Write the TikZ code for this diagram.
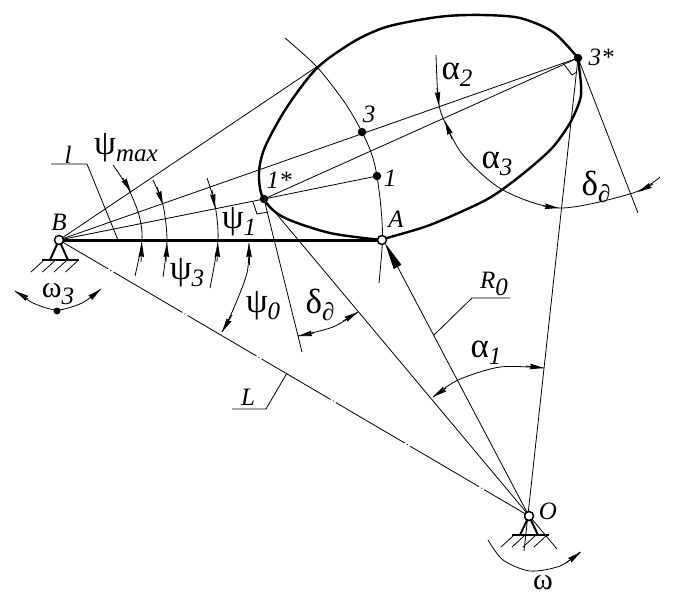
\documentclass[tikz,border=0pt]{standalone}
\usepackage{fontspec}
\setmainfont{Liberation Serif}
\usetikzlibrary{arrows.meta}
\newcommand{\gk}[1]{{\fontsize{35}{35}\selectfont #1}}
\newcommand{\gkw}[1]{{\fontsize{30}{30}\selectfont #1}}
\newcommand{\sbs}[1]{\raisebox{-7pt}{\fontsize{25}{25}\selectfont\itshape #1}}
\tikzset{
  x=1pt,y=-1pt,
  thin line/.style={line width=0.8pt,black},
  cam/.style={line width=2.4pt,black},
  lever/.style={line width=3pt,black},
  base/.style={line width=2.6pt,black},
  dimhead/.style={line width=0.8pt,-{Stealth[length=14pt,width=5.5pt,inset=1pt]}},
  bighead/.style={line width=0.8pt,-{Stealth[length=27pt,width=8.5pt,inset=0pt]}},
  centerline/.style={line width=0.8pt,dash pattern=on 80pt off 2.5pt on 1pt off 2.5pt,dash phase=23pt},
  fulldot/.style={circle,fill=black,inner sep=0pt,minimum size=8.5pt},
  hinge/.style={circle,draw=black,fill=white,line width=1.5pt,inner sep=0pt,minimum size=9pt},
  lab/.style={inner sep=0pt,font=\fontsize{25}{25}\selectfont\itshape},
  sym/.style={inner sep=0pt},
}
\begin{document}
\begin{tikzpicture}
\useasboundingbox (0,0) rectangle (680,600);
% points
\coordinate (B) at (59,240);
\coordinate (A) at (382,240);
\coordinate (O) at (529,516);
\coordinate (S1) at (264,199);
\coordinate (S3) at (578,58);
\coordinate (P3) at (362,132);
\coordinate (P1) at (377,176);
\coordinate (T) at (318,66);
\coordinate (N1) at (302,352);
\coordinate (N3) at (638,213);
\coordinate (O1end) at (557,549);
\coordinate (O3end) at (524,551);
% thin construction lines
\draw[thin line] (B) -- (T);
\draw[thin line] (B) -- (S3);
\draw[thin line] (B) -- (S1);
\draw[thin line] (S1) -- (S3);
\draw[thin line] (S1) -- (P1);
\draw[thin line] (S1) -- (N1);
\draw[thin line] (S3) -- (N3);
\draw[thin line] (S1) -- (O1end);
\draw[thin line] (S3) -- (O3end);
\draw[centerline] (B) -- (O);
\draw[thin line] (253,202) -- (257,214) -- (268,212);
\draw[thin line] (563,63) -- (572,75) -- (577,72);
% arc through A
\draw[thin line] plot[smooth] coordinates {(285,38) (317,67) (345,103) (362,132) (372,155) (377,176) (381,208) (382.5,240) (379,283)};
% cam
\draw[cam] plot[smooth] coordinates {(578,58) (581,85) (580,100) (570,123) (553,147) (530,168) (503,189) (480,203) (430,225) (387,238) (382,240)};
\draw[cam] plot[smooth] coordinates {(578,58) (553,32) (520,18) (483,15) (447,16) (413,21) (383,28) (353,42) (317,68) (287,107) (265,147) (259,173) (263,198) (283,217) (330,233) (382,240)};
% lever
\draw[lever] (B) -- (A);
% big arrow
\draw[bighead] (O) -- (385,243);
% angle arcs round B
\draw[thin line] plot[smooth] coordinates {(113,165) (128,188) (139,215) (142,240) (135,276)};
\draw[dimhead] (123,178) -- (131,192);
\draw[dimhead] (141,262) -- (142,243);
\draw[thin line] plot[smooth] coordinates {(153,180) (163,205) (167,240) (163,277)};
\draw[dimhead] (157,187) -- (163,205);
\draw[dimhead] (166,262) -- (167,243);
\draw[thin line] plot[smooth] coordinates {(207,178) (215,205) (218,240) (210,288)};
\draw[dimhead] (212,190) -- (215,208);
\draw[dimhead] (217,262) -- (218,243);
\draw[thin line] plot[smooth] coordinates {(249,243) (247,273) (233,310) (222,332)};
\draw[dimhead] (249,265) -- (249,243);
\draw[dimhead] (232,315) -- (222,332);
% lower delta
\draw[thin line] plot[smooth] coordinates {(298,336) (333,327) (358,312)};
\draw[dimhead] (314,333) -- (298,336);
\draw[dimhead] (343,321) -- (358,312);
% alpha1
\draw[thin line] plot[smooth] coordinates {(433,397) (458,380) (500,367) (544,368)};
\draw[dimhead] (446,388) -- (433,397);
\draw[dimhead] (526,366) -- (544,368);
% alpha2/alpha3/delta arc
\draw[thin line] plot[smooth] coordinates {(436,55) (438,97) (443,118) (463,155) (503,190) (560,208) (633,193) (660,177)};
\draw[dimhead] (437,88) -- (439,106);
\draw[dimhead] (452,139) -- (445,121);
\draw[dimhead] (543,206) -- (559,208);
\draw[dimhead] (653,184) -- (638,192);
% omega arcs
\draw[thin line] plot[smooth] coordinates {(15,291) (33,303) (57,310) (82,303) (101,289)};
\draw[dimhead] (28,299) -- (15,291);
\draw[dimhead] (90,298) -- (101,289);
\draw[thin line] plot[smooth] coordinates {(488,540) (503,560) (530,571) (560,566) (580,552)};
\draw[dimhead] (566,563) -- (581,552);
% leaders
\draw[thin line] (51,164) -- (87,164) -- (118,240);
\draw[thin line] (510,298) -- (472,298) -- (434,335);
\draw[thin line] (232,409) -- (266,409) -- (287,373);
% supports
\draw[base] (42,260) -- (79,260);
\draw[line width=2pt] (50,260) -- (B) -- (68,260);
\foreach \i in {0,1,2,3} {\draw[thin line] (31+\i*11.5,272) -- (43+\i*11.5,261);}
\draw[base] (512,535) -- (549,535);
\draw[line width=2pt] (520,535) -- (O) -- (538,535);
\foreach \i in {0,1,2,3} {\draw[thin line] (501+\i*11,547) -- (513+\i*11,536);}
% points on top
\node[hinge] (nB) at (B) {};
\node[hinge] (nA) at (A) {};
\node[hinge] (nO) at (O) {};
\node[fulldot] (nS1) at (S1) {};
\node[fulldot] (nS3) at (S3) {};
\node[fulldot] (nP3) at (P3) {};
\node[fulldot] (nP1) at (P1) {};
\node[fulldot,minimum size=7pt] (nW) at (57,311) {};
% labels
\node[lab] (tB) at (59,222) {B};
\node[lab] (tA) at (396,219) {A};
\node[lab] (tO) at (548,511) {O};
\node[lab] (t3) at (369,114) {3};
\node[lab] (t1) at (390,178) {1};
\node[lab] (t1s) at (279,180) {1*};
\node[lab] (t3s) at (601,57) {3*};
\node[lab] (tl) at (68,155) {l};
\node[lab] (tL) at (248,397) {L};
\node[lab] (tR) at (494,284) {R\sbs{0}};
\node[sym] (pmax) at (126,148) {\gk{ψ}\sbs{max}};
\node[sym] (p3) at (187,273) {\gk{ψ}\sbs{3}};
\node[sym] (p1) at (239,222) {\gk{ψ}\sbs{1}};
\node[sym] (p0) at (263,306) {\gk{ψ}\sbs{0}};
\node[sym] (dl) at (320,305) {\gk{δ}\sbs{∂}};
\node[sym] (dr) at (596,187) {\gk{δ}\sbs{∂}};
\node[sym] (a1) at (486,353) {\gk{α}\sbs{1}};
\node[sym] (a2) at (457,75) {\gk{α}\sbs{2}};
\node[sym] (a3) at (497,164) {\gk{α}\sbs{3}};
\node[sym] (w3) at (58,294) {\gkw{ω}\sbs{3}};
\node[sym] (w) at (543,583) {\gkw{ω}};
\end{tikzpicture}
\end{document}
